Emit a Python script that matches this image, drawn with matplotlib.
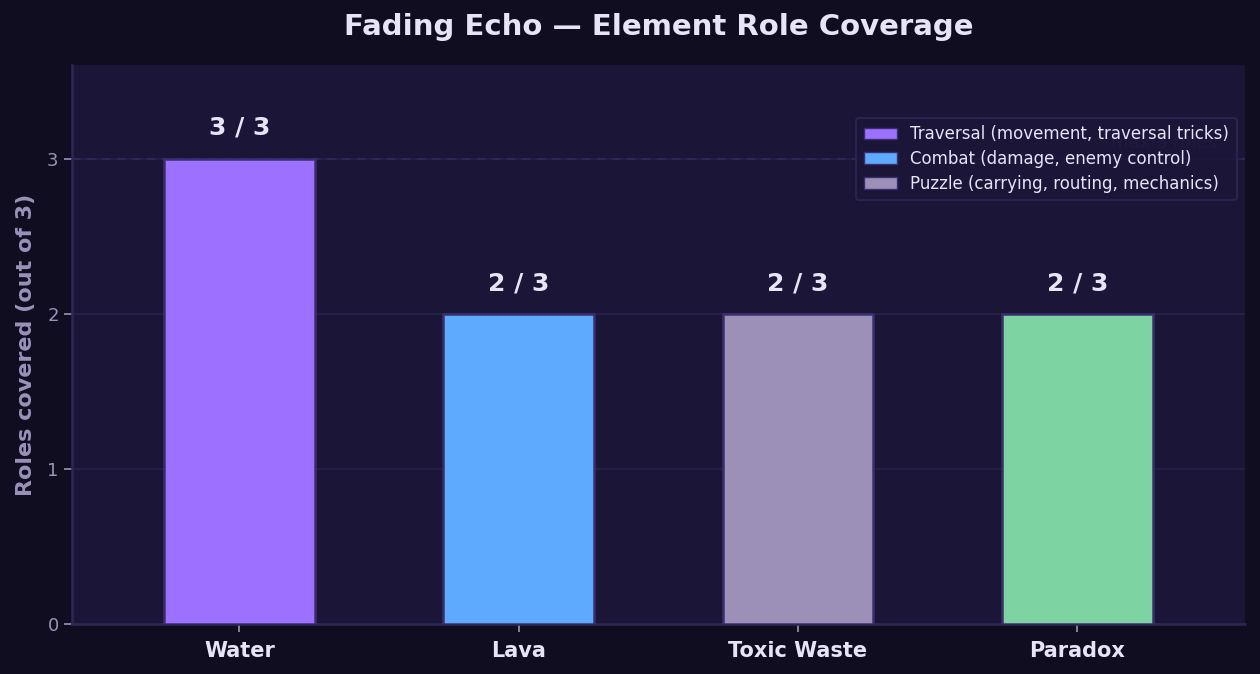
import numpy as np
import matplotlib
matplotlib.use("Agg")
import matplotlib.pyplot as plt
from matplotlib.patches import Patch

# data
elements = ["Water", "Lava", "Toxic Waste", "Paradox"]
roles_covered = [3, 2, 2, 2]
max_roles = 3
bar_colors = ["#9d70ff", "#5eaaff", "#9c90b9", "#7dd3a2"]
legend_labels = [
    "Traversal (movement, traversal tricks)",
    "Combat (damage, enemy control)",
    "Puzzle (carrying, routing, mechanics)",
]

BG = "#0f0d1f"
PANEL = "#1b1638"
EDGE = "#3a2f6e"
TEXT = "#e8e4f8"
MUTED = "#9a92b8"

fig, ax = plt.subplots(figsize=(12.6, 6.74), dpi=100)
fig.patch.set_facecolor(BG)
ax.set_facecolor(PANEL)
fig.subplots_adjust(left=0.057, right=0.988, top=0.903, bottom=0.074)

x = np.arange(len(elements))
bars = ax.bar(x, roles_covered, width=0.54, color=bar_colors,
              edgecolor=EDGE, linewidth=1.8, zorder=3)

# value labels above bars
for xi, v in zip(x, roles_covered):
    ax.text(xi, v + 0.12, f"{v} / {max_roles}", ha="center", va="bottom",
            fontsize=18, fontweight="bold", color=TEXT, zorder=4)

# max line + its note (sits behind the legend)
ax.axhline(max_roles, color="#2f2860", linestyle=(0, (5, 4)), linewidth=1.2, zorder=2)
ax.text(3.5, max_roles + 0.04, "max 3 roles", ha="right", va="bottom",
        fontsize=13, color="#3a3266", zorder=1)

ax.set_xlim(-0.6, 3.6)
ax.set_ylim(0, 3.6)
ax.set_yticks([0, 1, 2, 3])
ax.set_xticks(x)
ax.set_xticklabels(elements, fontsize=15, fontweight="bold")
ax.tick_params(axis="y", colors=MUTED, labelsize=13, length=6, width=1.2)
ax.tick_params(axis="x", colors=MUTED, labelcolor=TEXT, length=6, width=1.2, pad=6)
ax.yaxis.grid(True, color="#27214a", linewidth=1.2, zorder=0)
ax.set_axisbelow(True)

for side in ["top", "right"]:
    ax.spines[side].set_visible(False)
for side in ["left", "bottom"]:
    ax.spines[side].set_color("#2e2656")
    ax.spines[side].set_linewidth(1.8)

ax.set_ylabel("Roles covered (out of 3)", fontsize=16, fontweight="bold",
              color=MUTED, labelpad=8)
ax.set_title("Fading Echo — Element Role Coverage", fontsize=21,
             fontweight="bold", color=TEXT, pad=22)

handles = [Patch(facecolor=c, edgecolor=EDGE, label=l)
           for c, l in zip(bar_colors[:3], legend_labels)]
leg = ax.legend(handles=handles, loc="upper right", bbox_to_anchor=(1.0, 0.921),
                fontsize=12, facecolor=PANEL, edgecolor="#2e2656",
                labelcolor=TEXT, framealpha=0.85, handlelength=2.0,
                borderpad=0.45, labelspacing=0.4)
leg.get_frame().set_linewidth(1.4)

fig.savefig("out.png", dpi=100, facecolor=BG)
